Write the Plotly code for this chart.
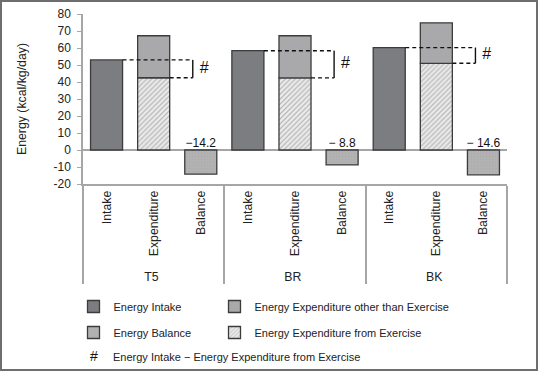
import plotly.graph_objects as go

# ---------------- data ----------------
groups = ["T5", "BR", "BK"]
measures = ["Intake", "Expenditure", "Balance"]
intake = [53.0, 58.4, 60.2]
expenditure = [67.2, 67.2, 74.8]
exercise = [42.5, 42.4, 51.0]
balance = [-14.2, -8.8, -14.6]
balance_labels = ["\u221214.2", "\u2212 8.8", "\u2212 14.6"]
y_ticks = [80, 70, 60, 50, 40, 30, 20, 10, 0, -10, -20]
y_tick_labels = ["80", "70", "60", "50", "40", "30", "20", "10", "0", "-10", "-20"]
other = [round(e - x, 1) for e, x in zip(expenditure, exercise)]

# ---------------- layout constants ----------------
W, H = 538, 371
ML, MR, MT, MB = 83, 31, 14, 187
PW, PH = W - ML - MR, H - MT - MB
FONT = "Liberation Sans, Arial, sans-serif"
EDGE = dict(color="#3c3c3c", width=1.3)


def px_x(p):
    return (p - ML) / PW


def px_y(p):
    return (H - MB - p) / PH


fig = go.Figure()

fig.add_trace(go.Bar(
    name="Energy Intake", x=[groups, [measures[0]] * 3], y=intake,
    marker=dict(color="#7c7d80", line=EDGE), legend="legend", legendrank=1))
fig.add_trace(go.Bar(
    name="Energy Expenditure from Exercise", x=[groups, [measures[1]] * 3], y=exercise,
    marker=dict(color="#e6e6e6", line=EDGE,
                pattern=dict(shape="/", fgcolor="#7e7e7e", bgcolor="#ececec", size=3.5, solidity=0.35)),
    legend="legend2", legendrank=4, legendwidth=230))
fig.add_trace(go.Bar(
    name="Energy Expenditure other than Exercise", x=[groups, [measures[1]] * 3], y=other,
    marker=dict(color="#a9a9ab", line=EDGE), legend="legend", legendrank=2, legendwidth=230))
fig.add_trace(go.Bar(
    name="Energy Balance", x=[groups, [measures[2]] * 3], y=balance,
    marker=dict(color="#b0b0b0", line=EDGE,
                pattern=dict(shape=".", fgcolor="#a6a6a6", bgcolor="#b3b3b3", size=3, solidity=0.3)),
    legend="legend2", legendrank=3))

# bracket helpers on an overlaying numeric axis (category index space)
half = 0.34
dx, dy = [], []
vx, vy = [], []
hx, hy = [], []
lx, ly = [], []
for k in range(len(groups)):
    i_in, i_ex, i_bal = 3 * k, 3 * k + 1, 3 * k + 2
    xb = i_ex + 0.83
    dx += [i_in + half, xb, None, i_ex + half, xb, None]
    dy += [intake[k], intake[k], None, exercise[k], exercise[k], None]
    vx += [xb, xb, None]
    vy += [intake[k], exercise[k], None]
    hx.append(i_ex + 1.07)
    hy.append((intake[k] + exercise[k]) / 2)
    lx.append(i_bal)
    ly.append(0)

fig.add_trace(go.Scatter(x=dx, y=dy, xaxis="x2", mode="lines", showlegend=False,
                         line=dict(color="#111", width=1.4, dash="4px,3px"), hoverinfo="skip"))
fig.add_trace(go.Scatter(x=vx, y=vy, xaxis="x2", mode="lines", showlegend=False,
                         line=dict(color="#111", width=1.4), hoverinfo="skip"))
fig.add_trace(go.Scatter(x=hx, y=hy, xaxis="x2", mode="text", text=["#"] * 3, showlegend=False,
                         textfont=dict(size=16, color="#111", family=FONT), hoverinfo="skip"))
fig.add_trace(go.Scatter(x=lx, y=ly, xaxis="x2", mode="text", text=balance_labels,
                         textposition="top center", showlegend=False,
                         textfont=dict(size=12, color="#111", family=FONT), hoverinfo="skip"))

fig.update_layout(
    width=W, height=H,
    margin=dict(l=ML, r=MR, t=MT, b=MB, autoexpand=False),
    paper_bgcolor="white", plot_bgcolor="white",
    barmode="relative", bargap=0.32,
    font=dict(family=FONT, size=11, color="#222"),
    xaxis=dict(type="multicategory", tickangle=-90, showline=True, linecolor="#a6a6a6", linewidth=1.5,
               showdividers=True, dividercolor="#a6a6a6", dividerwidth=1.5, automargin=False,
               ticks="", showgrid=False, tickfont=dict(size=12.3, color="#222")),
    xaxis2=dict(overlaying="x", range=[-0.5, 8.5], visible=False),
    yaxis=dict(range=[-20, 80], tickvals=y_ticks, ticktext=y_tick_labels, automargin=False,
               showline=True, linecolor="#a6a6a6", linewidth=1.5, ticks="outside", ticklen=4,
               tickcolor="#a6a6a6", showgrid=False, zeroline=True, zerolinecolor="#a6a6a6",
               zerolinewidth=2, tickfont=dict(size=12, color="#222"), ticklabelstandoff=4,
               title=dict(text="Energy (kcal/kg/day)", font=dict(size=12.3, color="#222"), standoff=24)),
    legend=dict(orientation="h", x=px_x(73.5), y=px_y(292), xanchor="left", yanchor="top",
                entrywidth=96, font=dict(size=11), traceorder="normal", bgcolor="rgba(0,0,0,0)"),
    legend2=dict(orientation="h", x=px_x(73.5), y=px_y(318), xanchor="left", yanchor="top",
                 entrywidth=96, font=dict(size=11), traceorder="normal", bgcolor="rgba(0,0,0,0)"),
    shapes=[dict(type="rect", xref="paper", yref="paper",
                 x0=px_x(1), x1=px_x(W - 1), y0=px_y(H - 1), y1=px_y(1),
                 line=dict(color="#6e6e6e", width=2))],
    annotations=[
        dict(text="#", xref="paper", yref="paper", x=px_x(94), y=px_y(356), showarrow=False,
             xanchor="center", yanchor="middle", font=dict(size=14, color="#111")),
        dict(text="Energy Intake \u2212 Energy Expenditure from Exercise", xref="paper", yref="paper",
             x=px_x(111), y=px_y(357), showarrow=False, xanchor="left", yanchor="middle",
             font=dict(size=11, color="#222")),
    ],
)

fig.write_html("out.html", config={"displayModeBar": False},
               post_script="document.body.style.margin='0';document.body.style.overflow='hidden';")
